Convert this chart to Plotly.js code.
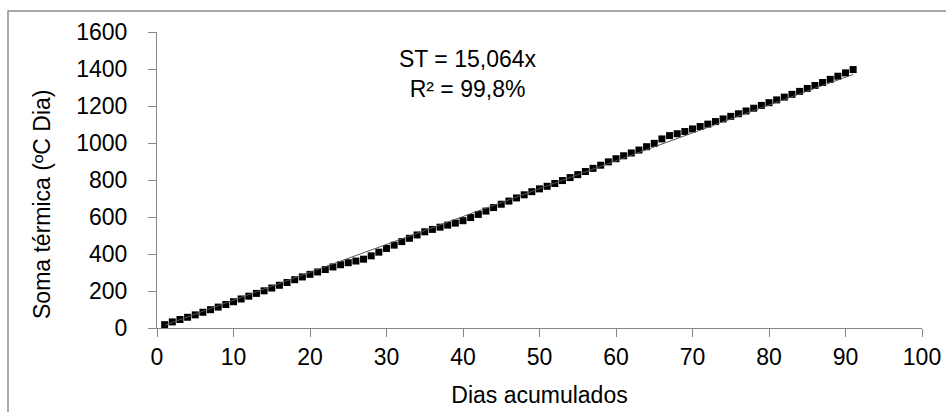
<!DOCTYPE html>
<html>
<head>
<meta charset="utf-8">
<script src="https://cdn.plot.ly/plotly-3.0.1.min.js"></script>
<style>
html,body{margin:0;padding:0;background:#fff;}
#chart{width:946px;height:412px;}
</style>
</head>
<body>
<div id="chart"></div>
<script>
// Days (x) and accumulated thermal sum (y)
const dias = [];
for (let d = 1; d <= 91; d++) dias.push(d);
const somaTermica = [
  18, 33, 46, 58, 71, 85, 99, 113, 127, 142,
  157, 172, 187, 201, 216, 231, 246, 261, 276, 290,
  303, 316, 330, 342, 353, 362, 372, 390, 410, 430,
  448, 467, 485, 503, 520, 533, 545, 556, 567, 580,
  597, 614, 632, 651, 669, 686, 703, 720, 737, 752,
  766, 781, 797, 813, 829, 846, 863, 880, 898, 915,
  931, 946, 962, 980, 998, 1022, 1040, 1050, 1062, 1076,
  1089, 1102, 1116, 1130, 1144, 1158, 1173, 1188, 1203, 1218,
  1233, 1248, 1263, 1279, 1295, 1311, 1327, 1344, 1361, 1379,
  1397
];
// Trend line: ST = 15,064x
const slope = 15.064;
const xTicks = [0, 10, 20, 30, 40, 50, 60, 70, 80, 90, 100];
const yTicks = [0, 200, 400, 600, 800, 1000, 1200, 1400, 1600];

const trendX = [dias[0], dias[dias.length - 1]];
const trendY = trendX.map(x => slope * x);

const W = 946, H = 412;
const L = 157, R = 922, T = 32, B = 328;
const px2x = p => (p - L) / (R - L);
const px2y = p => (B - p) / (B - T);

const font = {family: '"Liberation Sans", Arial, sans-serif', size: 23, color: '#000'};

const data = [
  {
    x: dias, y: somaTermica, type: 'scatter', mode: 'markers',
    marker: {symbol: 'square', size: 7, color: '#000'},
    hoverinfo: 'x+y', showlegend: false
  },
  {
    x: trendX, y: trendY, type: 'scatter', mode: 'lines',
    line: {color: '#555', width: 1},
    hoverinfo: 'skip', showlegend: false
  }
];

const layout = {
  width: W, height: H,
  margin: {l: L, r: W - R, t: T, b: H - B, pad: 0},
  paper_bgcolor: '#fff', plot_bgcolor: '#fff',
  font: font,
  showlegend: false,
  xaxis: {
    range: [0, 100], tickvals: xTicks, ticktext: xTicks.map(String),
    showgrid: false, zeroline: false, showline: true,
    linecolor: '#868686', linewidth: 1,
    ticks: 'outside', ticklen: 8, tickcolor: '#868686', tickwidth: 1,
    tickfont: font,
    title: {text: 'Dias acumulados', font: font, standoff: 18}
  },
  yaxis: {
    range: [0, 1600], tickvals: yTicks, ticktext: yTicks.map(String),
    showgrid: false, zeroline: false, showline: true,
    linecolor: '#868686', linewidth: 1,
    ticks: 'outside', ticklen: 8, tickcolor: '#868686', tickwidth: 1,
    tickfont: font, ticklabelstandoff: 16,
    title: {text: ''}
  },
  annotations: [
    {
      xref: 'paper', yref: 'paper', x: px2x(42), y: px2y(204),
      text: 'Soma térmica (ºC Dia)', textangle: -90, showarrow: false,
      font: font, xanchor: 'center', yanchor: 'middle'
    },
    {
      xref: 'paper', yref: 'paper', x: px2x(468), y: px2y(74),
      text: 'ST = 15,064x<br>R² = 99,8%', showarrow: false,
      font: font, xanchor: 'center', yanchor: 'middle', align: 'center'
    }
  ],
  shapes: [
    {
      type: 'rect', xref: 'paper', yref: 'paper',
      x0: px2x(8), x1: px2x(960), y0: px2y(430), y1: px2y(11),
      line: {color: '#8c8c8c', width: 1.5}, fillcolor: 'rgba(0,0,0,0)', layer: 'below'
    }
  ]
};

Plotly.newPlot('chart', data, layout, {displayModeBar: false, staticPlot: true});
</script>
</body>
</html>
